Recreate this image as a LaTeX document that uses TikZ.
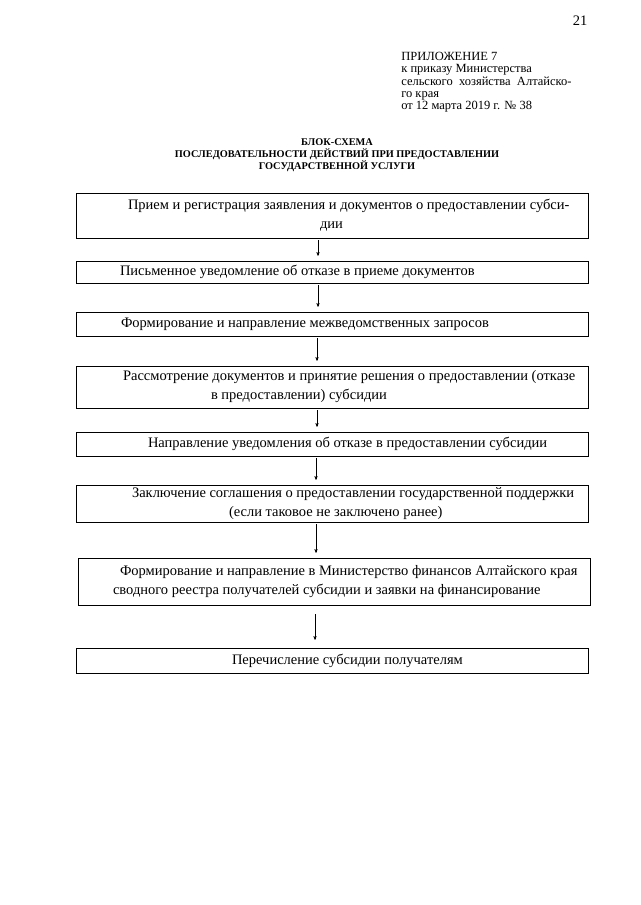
\documentclass[tikz,border=0pt]{standalone}
\usepackage{fontspec}
\setmainfont{Liberation Serif}
\usepackage{tikz}
\usetikzlibrary{arrows}

% one line of a box, started #1pt from the left edge
\newcommand{\row}[2]{\makebox[512pt][l]{\hspace*{#1pt}#2}}

\begin{document}
\begin{tikzpicture}[x=1pt,y=-1pt,>=stealth',semithick,
                    box/.style={draw,thin,inner xsep=0pt,inner ysep=0pt,align=left,
                                minimum width=512pt,font=\fontsize{14.5}{19}\selectfont},
                    link/.style={->,thin,shorten <=2pt,shorten >=5pt}]
%  \tikzstyle{every node}=[draw=none]
  \useasboundingbox (0,0) rectangle (640,905);

  \node[anchor=east,font=\fontsize{14.5}{16}\selectfont] (page) at (591,21) {21};
  \node[anchor=north west,align=left,inner sep=0pt,
        font=\fontsize{12.5}{12.3}\selectfont] (app) at (401,52)
       {ПРИЛОЖЕНИЕ 7\\к приказу Министерства\\сельского\ \ хозяйства\ \ Алтайско-\\го края\\от 12 марта 2019 г. № 38};
  \node[align=center,inner sep=0pt,
        font=\bfseries\fontsize{10.3}{12}\selectfont] (title) at (337,155)
       {БЛОК-СХЕМА\\ПОСЛЕДОВАТЕЛЬНОСТИ ДЕЙСТВИЙ ПРИ ПРЕДОСТАВЛЕНИИ\\ГОСУДАРСТВЕННОЙ УСЛУГИ};

  \node[box,minimum height=45pt] (A) at (332,215.5)
       {\row{52}{Прием и регистрация заявления и документов о предоставлении субси-}\\\row{244}{дии}};
  \node[box,minimum height=22pt] (B) at (332,272)
       {\row{44}{Письменное уведомление об отказе в приеме документов}};
  \node[box,minimum height=24pt] (C) at (332,324)
       {\row{45}{Формирование и направление межведомственных запросов}};
  \node[box,minimum height=42pt] (D) at (332,387)
       {\row{47}{Рассмотрение документов и принятие решения о предоставлении (отказе}\\\row{135}{в предоставлении) субсидии}};
  \node[box,minimum height=24pt] (E) at (332,444)
       {\row{72}{Направление уведомления об отказе в предоставлении субсидии}};
  \node[box,minimum height=37pt] (F) at (332,503.5)
       {\row{56}{Заключение соглашения о предоставлении государственной поддержки}\\\row{153}{(если таковое не заключено ранее)}};
  \node[box,minimum height=47pt] (G) at (334,581.5)
       {\row{42}{Формирование и направление в Министерство финансов Алтайского края}\\\row{35}{сводного реестра получателей субсидии и заявки на финансирование}};
  \node[box,minimum height=25pt] (H) at (332,660.5)
       {\row{156}{Перечисление субсидии получателям}};

  \path[link] ([xshift=-14pt]A.south) edge ([xshift=-14pt]B.north)
              ([xshift=-14pt]B.south) edge ([xshift=-14pt]C.north)
              ([xshift=-15pt]C.south) edge ([xshift=-15pt]D.north)
              ([xshift=-15pt]D.south) edge ([xshift=-15pt]E.north)
              ([xshift=-16pt]E.south) edge ([xshift=-16pt]F.north)
              ([xshift=-16pt]F.south) edge ([xshift=-18pt]G.north);
  \path[link,shorten <=9pt,shorten >=8pt]
              ([xshift=-19pt]G.south) edge ([xshift=-17pt]H.north);

\end{tikzpicture}
\end{document}
